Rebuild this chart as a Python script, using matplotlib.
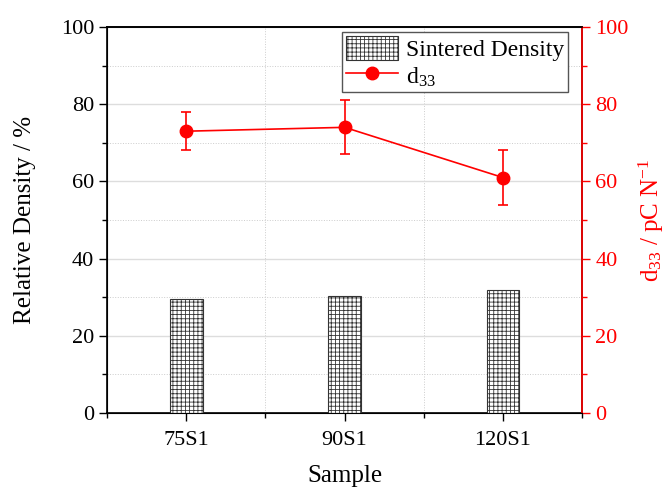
import matplotlib
matplotlib.use("Agg")
import matplotlib.pyplot as plt
from matplotlib.ticker import MultipleLocator, FixedLocator

samples = ["75S1", "90S1", "120S1"]
density = [29.5, 30.3, 31.8]
d33 = [73, 74, 61]
d33_err = [5, 7, 7]

plt.rcParams['font.family'] = ['Liberation Serif', 'DejaVu Serif']
plt.rcParams['mathtext.fontset'] = 'custom'
plt.rcParams['mathtext.rm'] = 'Liberation Serif'
plt.rcParams['mathtext.it'] = 'Liberation Serif:italic'
plt.rcParams['hatch.linewidth'] = 0.6

fig = plt.figure(figsize=(6.7, 4.87), dpi=100)
ax = fig.add_axes([0.16, 0.152, 0.7087, 0.7926])
x = list(range(len(samples)))

ax.bar(x, density, width=0.205, color='white', edgecolor='#333333', hatch='++++',
       linewidth=0.8, label='Sintered Density', zorder=3)
ax.set_xlim(-0.5, 2.5)
ax.set_ylim(0, 100)
ax.set_xticks(x)
ax.set_xticklabels(samples)
ax.xaxis.set_minor_locator(FixedLocator([-0.5, 0.5, 1.5, 2.5]))
ax.yaxis.set_major_locator(MultipleLocator(20))
ax.yaxis.set_minor_locator(MultipleLocator(10))
ax.tick_params(which='major', direction='out', length=6, width=1, labelsize=16)
ax.tick_params(axis='x', which='major', pad=7)
ax.tick_params(which='minor', direction='out', length=3.5, width=1)
ax.grid(axis='y', which='major', color='#dddddd', linewidth=1.0, linestyle='-', zorder=0)
ax.grid(axis='y', which='minor', color='#cccccc', linewidth=0.7, linestyle=':', zorder=0)
ax.grid(axis='x', which='minor', color='#cccccc', linewidth=0.7, linestyle=':', zorder=0)
ax.set_axisbelow(True)
ax.set_ylabel('Relative Density / %', fontsize=18, labelpad=18)
ax.set_xlabel('Sample', fontsize=18, labelpad=11)
for s in ax.spines.values():
    s.set_linewidth(1.2)

ax2 = ax.twinx()
ax2.set_ylim(0, 100)
ln = ax2.errorbar(x, d33, yerr=d33_err, color='red', marker='o', markersize=9,
                  linewidth=1.2, capsize=3.5, elinewidth=1.2, capthick=1.2)
ax2.yaxis.set_major_locator(MultipleLocator(20))
ax2.yaxis.set_minor_locator(MultipleLocator(10))
ax2.tick_params(which='major', direction='out', length=6, width=1, labelsize=16,
                colors='red')
ax2.tick_params(which='minor', direction='out', length=3.5, width=1, colors='red')
ax2.spines['right'].set_color('red')
ax2.spines['right'].set_linewidth(1.2)
ax2.spines['top'].set_linewidth(1.2)
ax2.set_ylabel(r'd$_{33}$ / pC N$^{-1}$', fontsize=18, color='red', labelpad=6)

h1, l1 = ax.get_legend_handles_labels()
leg = ax2.legend(h1 + [ln[0]], l1 + ['d$_{33}$'], loc='upper right',
                 bbox_to_anchor=(0.97, 0.987), borderaxespad=0, fontsize=17,
                 fancybox=False, framealpha=1, edgecolor='#555555',
                 handlelength=2.2, handleheight=1.2, labelspacing=0.12,
                 borderpad=0.15, handletextpad=0.35)
leg.get_frame().set_linewidth(1.0)

fig.savefig('out.png', dpi=100)
